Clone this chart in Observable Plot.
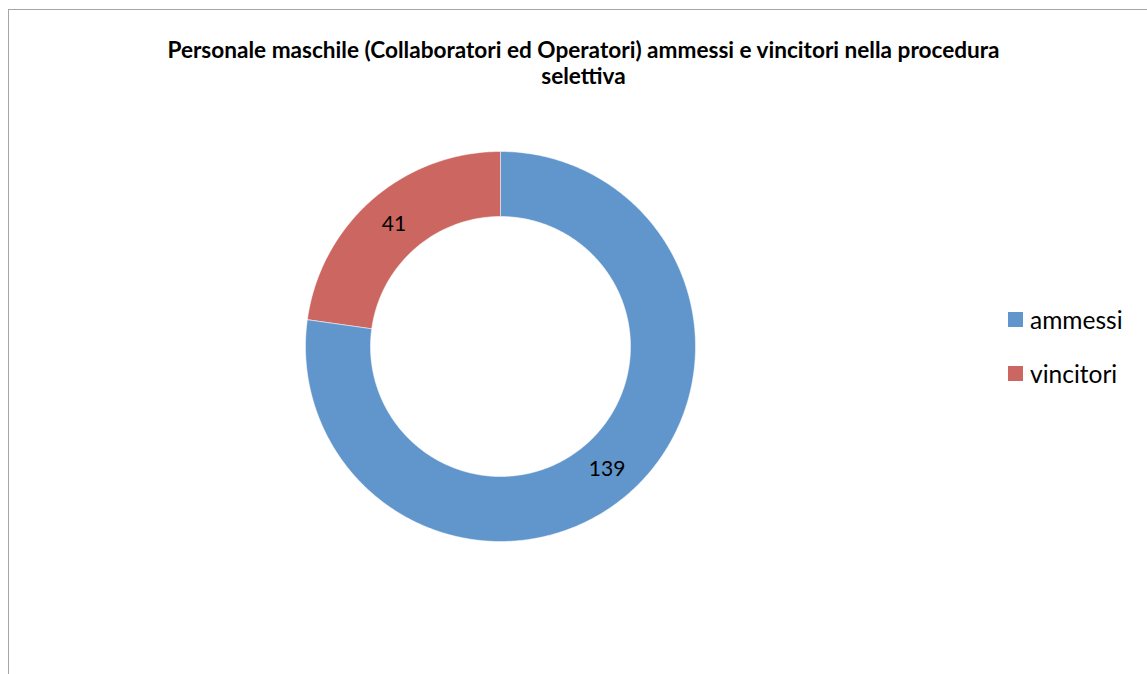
<!DOCTYPE html>
<html>
<head>
<meta charset="utf-8">
<script src="https://cdn.jsdelivr.net/npm/d3@7"></script>
<script src="https://cdn.jsdelivr.net/npm/@observablehq/plot@0.6"></script>
<style>
  html, body { margin: 0; padding: 0; background: #fff; }
  #wrap { position: relative; width: 1147px; height: 674px; overflow: hidden; font-family: Lato, "Open Sans", sans-serif; }
  #frame { position: absolute; left: 8px; top: 9px; width: 1200px; height: 700px; border-left: 1.5px solid #a6a6a6; border-top: 1.5px solid #a6a6a6; }
  #chart { position: absolute; left: 0; top: 0; }
  #title { position: absolute; left: 0; width: 1167px; top: 37px; text-align: center; font-weight: bold; font-size: 22.5px; line-height: 26px; color: #000; white-space: nowrap; }
  .leg { position: absolute; left: 1008px; font-size: 24.5px; line-height: 24px; color: #000; }
  .leg span.sw { position: absolute; left: 0; top: 4.5px; width: 15px; height: 15px; }
  .leg span.tx { position: absolute; left: 22px; top: 0; white-space: nowrap; }
</style>
</head>
<body>
<div id="wrap">
  <div id="frame"></div>
  <div id="chart"></div>
  <div id="title"></div>
  <div id="legend"></div>
</div>
<script>
const titleLines = ["Personale maschile (Collaboratori ed Operatori) ammessi e vincitori nella procedura", "selettiva"];
const categories = ["ammessi", "vincitori"];
const values = [139, 41];
const colors = ["#6096CC", "#CC6661"];

const outerR = 195, innerR = 130;
const data = categories.map((name, i) => ({name, value: values[i]}));
const arcs = d3.pie().sort(null).value(d => d.value)(data);

// polygon outline of each ring slice, derived from the pie angles
const pts = [];
for (const a of arcs) {
  const n = Math.max(2, Math.ceil((a.endAngle - a.startAngle) / 0.01));
  for (let k = 0; k <= n; k++) {
    const t = a.startAngle + (a.endAngle - a.startAngle) * k / n;
    pts.push({name: a.data.name, x: outerR * Math.sin(t), y: outerR * Math.cos(t)});
  }
  for (let k = n; k >= 0; k--) {
    const t = a.startAngle + (a.endAngle - a.startAngle) * k / n;
    pts.push({name: a.data.name, x: innerR * Math.sin(t), y: innerR * Math.cos(t)});
  }
}
const labelR = (outerR + innerR) / 2;
const labels = arcs.map(a => {
  const m = (a.startAngle + a.endAngle) / 2;
  return {name: a.data.name, value: a.data.value, x: labelR * Math.sin(m), y: labelR * Math.cos(m)};
});

const chart = Plot.plot({
  width: 1147,
  height: 674,
  margin: 0,
  x: {domain: [-500, 647], axis: null},
  y: {domain: [-328, 346], axis: null},
  color: {domain: categories, range: colors},
  style: {background: "transparent"},
  marks: [
    Plot.line(pts, {x: "x", y: "y", z: "name", fill: "name", stroke: "#ffffff", strokeWidth: 0.5, curve: "linear-closed"}),
    Plot.text(labels, {x: "x", y: "y", text: d => String(d.value), fontSize: 21, fill: "#000", fontFamily: "Lato, sans-serif"})
  ]
});
document.getElementById("chart").appendChild(chart);

// fit title width to the reference (first line ~833px wide)
const titleEl = document.getElementById("title");
try {
  const ctx = document.createElement("canvas").getContext("2d");
  ctx.font = "bold 100px Lato";
  const w = ctx.measureText(titleLines[0]).width;
  if (w > 0) titleEl.style.fontSize = (833 / w * 100).toFixed(2) + "px";
} catch (e) {}
titleEl.innerHTML = titleLines.map(s => `<div>${s}</div>`).join("");

const legend = document.getElementById("legend");
categories.forEach((c, i) => {
  const d = document.createElement("div");
  d.className = "leg";
  d.style.top = (307.5 + i * 54) + "px";
  d.innerHTML = `<span class="sw" style="background:${colors[i]}"></span><span class="tx">${c}</span>`;
  legend.appendChild(d);
});
</script>
</body>
</html>
